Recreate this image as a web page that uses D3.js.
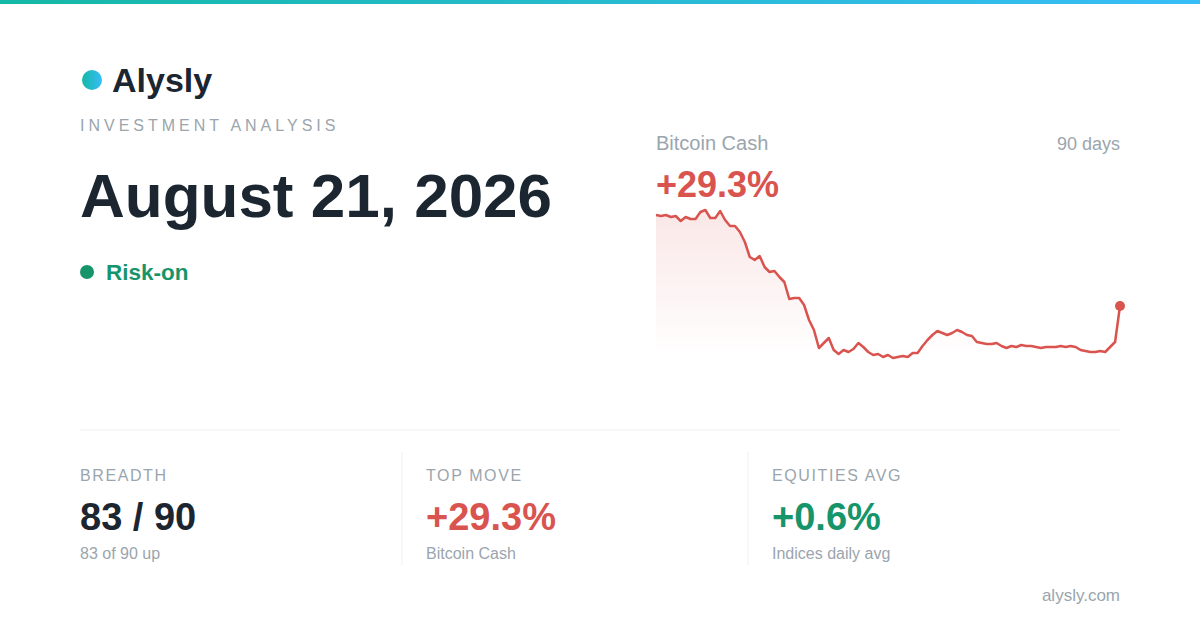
<!DOCTYPE html><html><head><meta charset="utf-8">
<script src="https://cdn.jsdelivr.net/npm/d3@7/dist/d3.min.js"></script>
<style>body{margin:0;background:#fff}svg{display:block;font-family:"Liberation Sans",Arial,sans-serif}</style></head><body>
<svg id="c" width="1200" height="630"></svg>
<script>
const series = [185,184,185,183,184,179,183,181,181,188,190,182,182,189,180,174,174,168,158,143,140,144,133,128,129,123,118,101,102,102,95,80,70,52,57,62,50,46,50,48,51,57,53,48,45,46,43,45,42,43,44,43,47,47,54,60,65,69,67,65,67,70,68,65,64,58,57,56,56,57,54,52,54,53,55,54,54,53,52,53,53,53,54,53,54,53,50,49,48,48,49,48,53,58,94];
const stats = [
 {label:"BREADTH", value:"83 / 90", sub:"83 of 90 up", color:"#1b2631"},
 {label:"TOP MOVE", value:"+29.3%", sub:"Bitcoin Cash", color:"#d9534f"},
 {label:"EQUITIES AVG", value:"+0.6%", sub:"Indices daily avg", color:"#17956a"}
];
const svg=d3.select("#c");
const defs=svg.append("defs");
const tg=defs.append("linearGradient").attr("id","top");
tg.append("stop").attr("offset","0").attr("stop-color","#14b8a6");
tg.append("stop").attr("offset","1").attr("stop-color","#38bdf8");
const lg=defs.append("linearGradient").attr("id","logo");
lg.append("stop").attr("offset","0").attr("stop-color","#14b8a6");
lg.append("stop").attr("offset","1").attr("stop-color","#38bdf8");
const ag=defs.append("linearGradient").attr("id","area").attr("x1",0).attr("x2",0).attr("y1",0).attr("y2",1);
ag.append("stop").attr("offset","0").attr("stop-color","#d9534f").attr("stop-opacity",0.14);
ag.append("stop").attr("offset","1").attr("stop-color","#d9534f").attr("stop-opacity",0);
svg.append("rect").attr("width",1200).attr("height",4).attr("fill","url(#top)");
svg.append("circle").attr("cx",92).attr("cy",80).attr("r",10).attr("fill","url(#logo)");
const t=(x,y,s,o)=>{const e=svg.append("text").attr("x",x).attr("y",y).text(s);for(const k in o)e.attr(k,o[k]);return e;};
t(112,92,"Alysly",{"font-size":34,"font-weight":700,fill:"#1b2631"});
t(80,131,"INVESTMENT ANALYSIS",{"font-size":16,fill:"#9aa5ad","letter-spacing":4});
t(80,217,"August 21, 2026",{"font-size":62,"font-weight":700,fill:"#1b2631"});
svg.append("circle").attr("cx",87).attr("cy",272).attr("r",7).attr("fill","#17956a");
t(106,280,"Risk-on",{"font-size":22.5,"font-weight":700,fill:"#17956a"});
t(656,150,"Bitcoin Cash",{"font-size":20,fill:"#9aa5ad"});
t(1120,150,"90 days",{"font-size":18,fill:"#9aa5ad","text-anchor":"end"});
t(656,197,"+29.3%",{"font-size":36,"font-weight":700,fill:"#d9534f"});
const x=d3.scaleLinear().domain([0,series.length-1]).range([656,1120]);
const y=d3.scaleLinear().domain(d3.extent(series)).range([358,210]);
svg.append("path").datum(series).attr("fill","url(#area)")
 .attr("d",d3.area().x((d,i)=>x(i)).y0(350).y1(d=>y(d)));
svg.append("path").datum(series).attr("fill","none").attr("stroke","#d9534f").attr("stroke-width",2.5).attr("stroke-linejoin","round")
 .attr("d",d3.line().x((d,i)=>x(i)).y(d=>y(d)));
svg.append("circle").attr("cx",x(series.length-1)).attr("cy",y(series[series.length-1])).attr("r",5).attr("fill","#d9534f");
svg.append("line").attr("x1",80).attr("x2",1120).attr("y1",430).attr("y2",430).attr("stroke","#eceff1");
stats.forEach((s,i)=>{
 const xx=80+i*346;
 if(i) svg.append("line").attr("x1",56+i*346).attr("x2",56+i*346).attr("y1",452).attr("y2",565).attr("stroke","#eceff1");
 t(xx,481,s.label,{"font-size":16,fill:"#9aa5ad","letter-spacing":1.6});
 t(xx,530,s.value,{"font-size":38,"font-weight":700,fill:s.color});
 t(xx,559,s.sub,{"font-size":16,fill:"#9aa5ad"});
});
t(1120,601,"alysly.com",{"font-size":17,fill:"#9aa5ad","text-anchor":"end"});
</script></body></html>
